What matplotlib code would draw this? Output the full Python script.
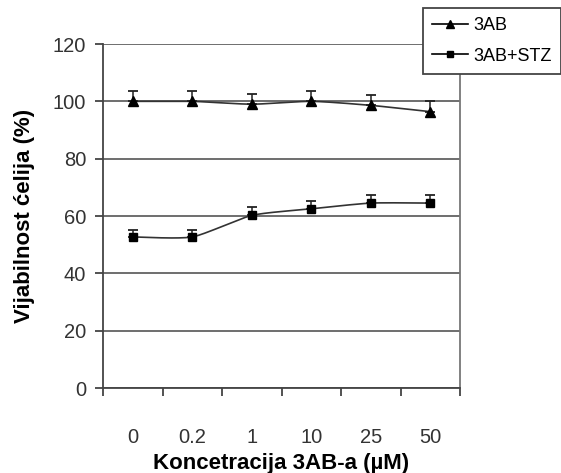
import numpy as np
import matplotlib.pyplot as plt
from matplotlib.lines import Line2D

plt.rcParams['font.family'] = ['Liberation Sans', 'DejaVu Sans']

categories = ['0', '0.2', '1', '10', '25', '50']
ab = [100.0, 100.0, 99.0, 100.0, 98.6, 96.4]
ab_err = [3.6, 3.6, 3.5, 3.6, 3.5, 3.7]
ab_stz = [52.7, 52.7, 60.2, 62.5, 64.5, 64.5]
ab_stz_err = [2.3, 2.5, 2.8, 2.6, 2.7, 2.7]
y_ticks = [0, 20, 40, 60, 80, 100, 120]


def smooth(x, y, n=30):
    # catmull-rom like Excel's smoothed line
    x = np.asarray(x, float)
    y = np.asarray(y, float)
    px = np.concatenate([[x[0]], x, [x[-1]]])
    py = np.concatenate([[y[0]], y, [y[-1]]])
    xs, ys = [], []
    t = np.linspace(0, 1, n)
    for i in range(1, len(px) - 2):
        for p, out in ((px, xs), (py, ys)):
            p0, p1, p2, p3 = p[i - 1], p[i], p[i + 1], p[i + 2]
            m1 = (p2 - p0) / 2 * 0.65
            m2 = (p3 - p1) / 2 * 0.65
            h00 = 2 * t**3 - 3 * t**2 + 1
            h10 = t**3 - 2 * t**2 + t
            h01 = -2 * t**3 + 3 * t**2
            h11 = t**3 - t**2
            out.extend(h00 * p1 + h10 * m1 + h01 * p2 + h11 * m2)
    return xs, ys


fig = plt.figure(figsize=(5.61, 4.73), dpi=100)
ax = fig.add_axes([103 / 561, 85 / 473, 357 / 561, 344 / 473])

x = np.arange(len(categories))

for vals, err, mk, ms in ((ab, ab_err, '^', 7), (ab_stz, ab_stz_err, 's', 6)):
    sx, sy = smooth(x, vals)
    ax.plot(sx, sy, color='#333333', lw=1.2, zorder=3)
    ax.errorbar(x, vals, yerr=[np.zeros(len(err)), err], fmt='none',
                ecolor='#222222', elinewidth=1.1, capsize=3.5, capthick=1.3, zorder=3)
    ax.plot(x, vals, mk, color='black', ms=ms, zorder=4)

ax.set_xlim(-0.5, len(categories) - 0.5)
ax.set_ylim(0, 120)
ax.set_yticks(y_ticks)
ax.set_xticks(x)
ax.set_xticklabels(categories)
ax.set_xticks(np.arange(-0.5, len(categories)), minor=True)
ax.tick_params(axis='x', which='major', length=0, pad=29, labelsize=14.5, colors='#333333')
ax.tick_params(axis='x', which='minor', length=6, width=1.3, color='#444444', direction='out')
ax.tick_params(axis='y', length=6, width=1.3, color='#444444', direction='out',
               labelsize=14.5, labelcolor='#333333', pad=6)

ax.yaxis.grid(True, color='#555555', lw=1.2)
ax.set_axisbelow(True)
ax.spines['top'].set_visible(False)
ax.spines['left'].set_color('#444444')
ax.spines['left'].set_linewidth(1.3)
ax.spines['bottom'].set_color('#444444')
ax.spines['bottom'].set_linewidth(1.3)
ax.spines['right'].set_color('#777777')
ax.spines['right'].set_linewidth(1.3)

ax.set_xlabel('Koncetracija 3AB-a (\u00b5M)', fontsize=16, fontweight='bold', va='center')
ax.xaxis.set_label_coords(0.5, (388 - 463) / 344)
ax.set_ylabel('Vijabilnost ćelija (%)', fontsize=16, fontweight='bold', va='center')
ax.yaxis.set_label_coords((25 - 103) / 357, 0.5)

handles = [
    Line2D([], [], color='black', lw=1.2, marker='^', ms=6),
    Line2D([], [], color='black', lw=1.2, marker='s', ms=5),
]
leg = fig.legend(handles, ['3AB', '3AB+STZ'], loc='upper left',
                 bbox_to_anchor=(423 / 561, 1 - 8 / 473), fontsize=13,
                 fancybox=False, framealpha=1, edgecolor='#444444',
                 handlelength=2.0, handletextpad=0.3, borderpad=0.5,
                 labelspacing=0.75, borderaxespad=0)
leg.get_frame().set_linewidth(1.3)
leg.set_zorder(10)

fig.savefig('out.png', dpi=100)
